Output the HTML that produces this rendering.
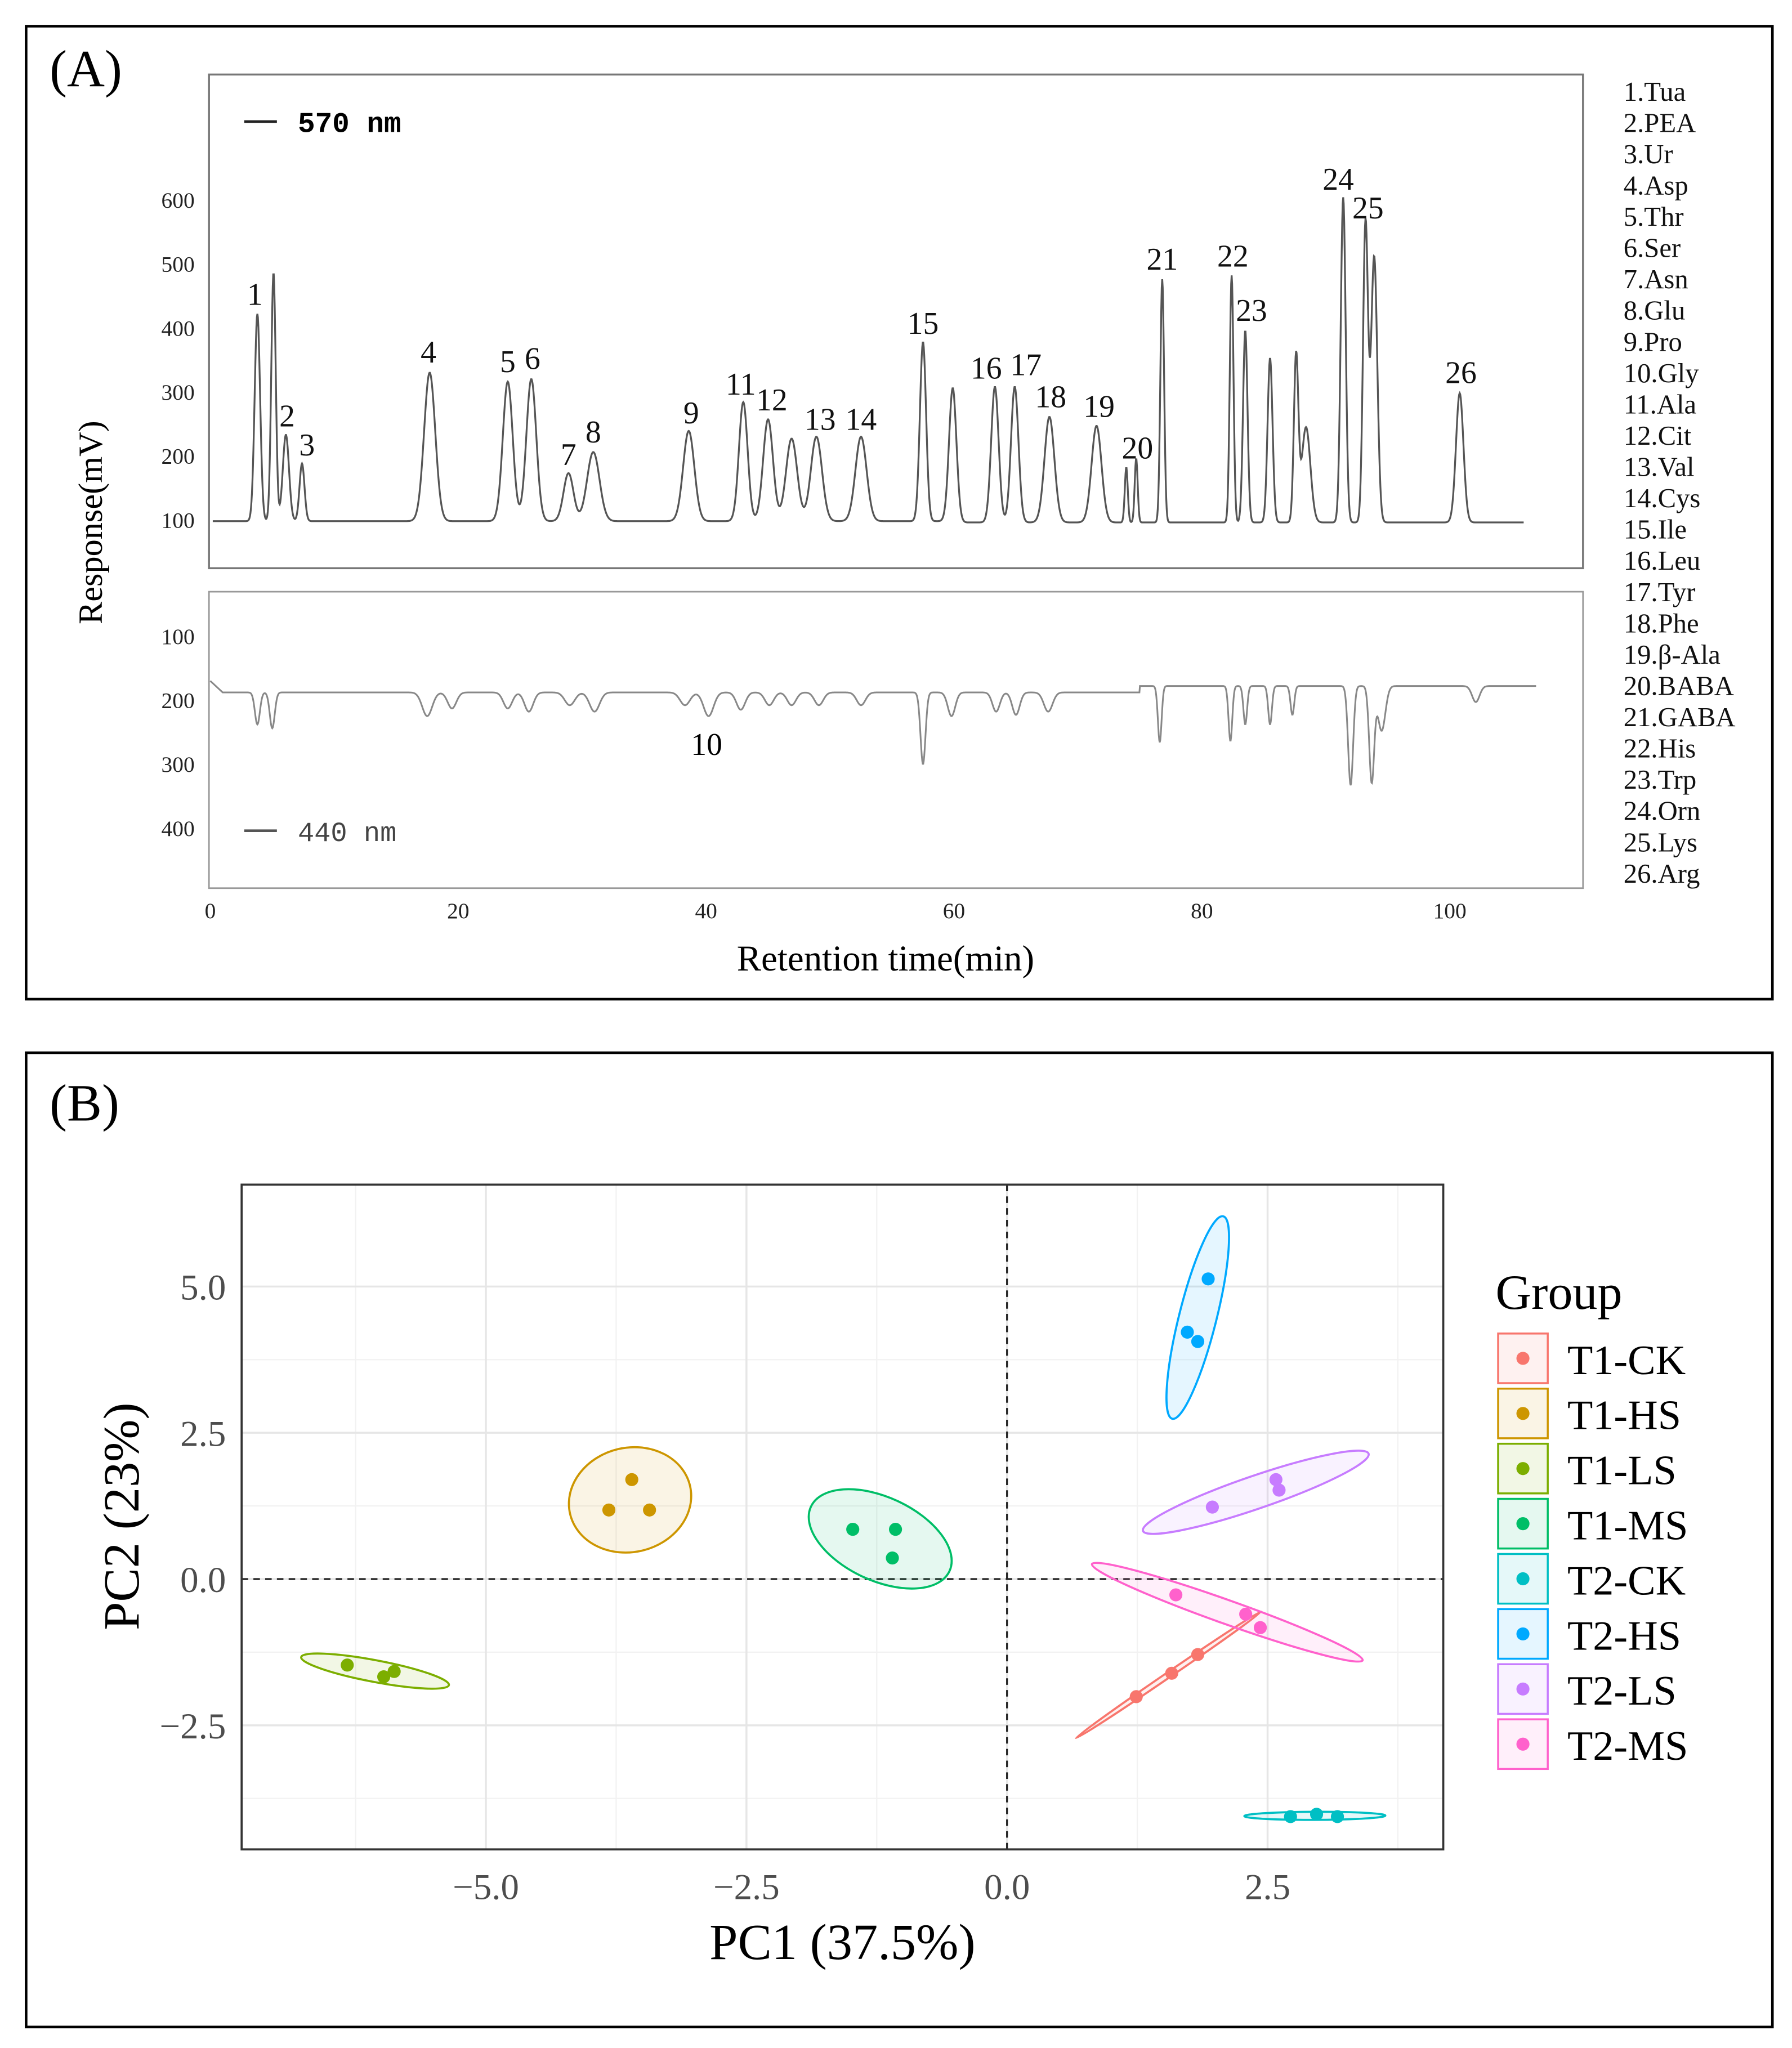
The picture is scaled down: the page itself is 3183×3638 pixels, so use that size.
<!DOCTYPE html>
<html><head><meta charset="utf-8"><style>
html,body{margin:0;padding:0;background:#fff;}
svg{display:block;}
</style></head><body>
<svg id="fig" width="3183" height="3638" viewBox="0 0 1372 1568" xmlns="http://www.w3.org/2000/svg" font-family="'Liberation Serif', serif">
<rect x="0" y="0" width="1372" height="1568" fill="#fff"/>
<g>
<rect x="20" y="20" width="1337" height="745" fill="none" stroke="#000" stroke-width="2"/>
<text x="38" y="66" font-size="40">(A)</text>
<rect x="160" y="57" width="1052" height="378" fill="none" stroke="#777" stroke-width="1.5"/>
<rect x="160" y="453" width="1052" height="227" fill="none" stroke="#999" stroke-width="1.2"/>
<g id="topTicks" font-size="17" text-anchor="end" fill="#222"></g>
<g id="botTicks" font-size="17" text-anchor="end" fill="#222"></g>
<g id="xTicks" font-size="17" text-anchor="middle" fill="#222"></g>
<path id="topTrace" fill="none" stroke="#555" stroke-width="1.4"/>
<path id="botTrace" fill="none" stroke="#888" stroke-width="1.3"/>
<g id="peakLabels" font-size="24" text-anchor="middle" fill="#111"></g>
<text x="541" y="578" font-size="24" text-anchor="middle">10</text>
<line x1="187" y1="93" x2="212" y2="93" stroke="#222" stroke-width="2"/>
<text x="228" y="101" font-size="22" font-weight="bold" font-family="'Liberation Mono', monospace">570 nm</text>
<line x1="187" y1="636" x2="212" y2="636" stroke="#555" stroke-width="2"/>
<text x="228" y="644" font-size="21" fill="#444" font-family="'Liberation Mono', monospace">440 nm</text>
<text transform="translate(78,400) rotate(-90)" font-size="26" text-anchor="middle">Response(mV)</text>
<text x="678" y="743" font-size="28" text-anchor="middle">Retention time(min)</text>
<g id="aaList" font-size="21" fill="#111"></g>
</g>
<g>
<rect x="20" y="806" width="1337" height="746" fill="none" stroke="#000" stroke-width="2"/>
<text x="38" y="858" font-size="40">(B)</text>
<g id="grid"></g>
<g id="pca"></g>
<rect x="185" y="907" width="920" height="509" fill="none" stroke="#333" stroke-width="1.6"/>
<g id="pcaTicks" font-size="28" fill="#4d4d4d"></g>
<text x="645" y="1500" font-size="39" text-anchor="middle">PC1 (37.5%)</text>
<text transform="translate(106,1161) rotate(-90)" font-size="39" text-anchor="middle">PC2 (23%)</text>
<text x="1145" y="1002" font-size="38">Group</text>
<g id="legend"></g>
</g>
</svg>
<script>
// ---------- Chromatogram data ----------
const peakTimes   = [3.8,5.1,6.1,7.4,17.7,24.0,25.9,28.9,30.9,38.6,43.0,45.0,46.9,48.9,52.5,57.5,59.9,63.3,64.9,67.7,71.5,73.9,74.7,76.8,82.4,83.5,85.5,87.6,88.4,91.4,93.2,93.9,100.8];
const peakHeights = [422,486,233,188,330,316,320,173,206,239,284,257,227,230,230,378,306,310,310,263,249,184,198,478,484,398,355,355,247,606,565,514,300];
const peakWidths  = [0.22,0.18,0.25,0.2,0.45,0.4,0.4,0.4,0.5,0.45,0.35,0.4,0.45,0.45,0.45,0.25,0.3,0.3,0.3,0.4,0.4,0.12,0.12,0.15,0.15,0.18,0.2,0.18,0.35,0.2,0.2,0.25,0.3];
const baseTop = 98;
const dipTimes  = [3.8,5.0,17.5,19.5,24.0,25.7,29.0,31.0,38.3,40.2,42.8,45.1,46.9,49.1,52.5,57.5,59.8,63.4,65.0,67.6,76.6,82.3,83.5,85.5,87.3,92.0,93.7,94.5,102.1];
const dipDepths = [50,56,37,25,25,30,20,30,20,37,27,20,20,20,20,112,37,30,35,30,88,86,60,60,45,155,150,70,25];
const dipWidths = [0.2,0.2,0.4,0.35,0.35,0.35,0.4,0.4,0.4,0.4,0.35,0.35,0.35,0.35,0.35,0.2,0.3,0.3,0.3,0.35,0.15,0.15,0.15,0.15,0.15,0.2,0.2,0.3,0.3];
const topTickVals = [100,200,300,400,500,600];
const botTickVals = [100,200,300,400];
const xTickVals = [0,20,40,60,80,100];
const peakLabelText = ["1","2","3","4","5","6","7","8","9","11","12","13","14","15","16","17","18","19","20","21","22","23","24","25","26"];
const peakLabelTimes = [3.6,6.2,7.8,17.6,24.0,26.0,28.9,30.9,38.8,42.8,45.3,49.2,52.5,57.5,62.6,65.8,67.8,71.7,74.8,76.8,82.5,84.0,91.0,93.4,100.9];
const peakLabelVals = [440,250,205,350,335,340,190,225,255,300,275,245,245,395,325,330,280,265,200,495,500,415,620,575,318];
const aaNames = ["1.Tua","2.PEA","3.Ur","4.Asp","5.Thr","6.Ser","7.Asn","8.Glu","9.Pro","10.Gly","11.Ala","12.Cit","13.Val","14.Cys","15.Ile","16.Leu","17.Tyr","18.Phe","19.β-Ala","20.BABA","21.GABA","22.His","23.Trp","24.Orn","25.Lys","26.Arg"];

// ---------- PCA data ----------
const groups = ["T1-CK","T1-HS","T1-LS","T1-MS","T2-CK","T2-HS","T2-LS","T2-MS"];
const colors = ["#F8766D","#CD9600","#7CAE00","#00BE67","#00BFC4","#00A9FF","#C77CFF","#FF61CC"];
const pc1 = [[1.24,1.58,1.83],[-3.82,-3.60,-3.43],[-6.33,-5.98,-5.88],[-1.48,-1.07,-1.10],[2.72,2.97,3.17],[1.93,1.73,1.83],[1.97,2.58,2.61],[1.62,2.29,2.43]];
const pc2 = [[-2.01,-1.61,-1.29],[1.18,1.70,1.18],[-1.47,-1.67,-1.58],[0.85,0.85,0.36],[-4.06,-4.02,-4.06],[5.13,4.22,4.06],[1.23,1.70,1.52],[-0.27,-0.60,-0.83]];
const xTicksB=[-5,-2.5,0,2.5];
const yTicksB=[-2.5,0,2.5,5];
const xMinor=[-6.25,-3.75,-1.25,1.25,3.75];
const yMinor=[-3.75,-1.25,1.25,3.75];

const NS='http://www.w3.org/2000/svg';
const xT = t => 161 + t*9.49;
const yTop = v => 398 - (v-100)*0.49;
const yBot = v => 487 + (v-100)*0.49;
function mk(tag, attrs, parent){const e=document.createElementNS(NS,tag);for(const k in attrs)e.setAttribute(k,attrs[k]);parent.appendChild(e);return e;}

const tt=document.getElementById('topTicks');
topTickVals.forEach(v=>{const e=mk('text',{x:149,y:yTop(v)+6},tt);e.textContent=v;

});
const bt=document.getElementById('botTicks');
botTickVals.forEach(v=>{const e=mk('text',{x:149,y:yBot(v)+6},bt);e.textContent=v;

});
const xt=document.getElementById('xTicks');
xTickVals.forEach(v=>{const e=mk('text',{x:xT(v),y:703},xt);e.textContent=v;

});

let d='';
for(let t=0.2;t<=106;t+=0.04){
  let v=baseTop - (t>60?2:0);
  for(let i=0;i<peakTimes.length;i++){const z=(t-peakTimes[i])/peakWidths[i];v+=(peakHeights[i]-baseTop)*Math.exp(-0.5*z*z);}
  d+=(d?'L':'M')+xT(t).toFixed(2)+' '+yTop(v).toFixed(2);
}
document.getElementById('topTrace').setAttribute('d',d);
d='';
for(let t=0;t<=107;t+=0.04){
  let v = t<75?188:178;
  if(t<1) v=170+18*t;
  for(let i=0;i<dipTimes.length;i++){const z=(t-dipTimes[i])/dipWidths[i];v+=dipDepths[i]*Math.exp(-0.5*z*z);}
  d+=(d?'L':'M')+xT(t).toFixed(2)+' '+yBot(v).toFixed(2);
}
document.getElementById('botTrace').setAttribute('d',d);

const pl=document.getElementById('peakLabels');
peakLabelText.forEach((s,i)=>{const e=mk('text',{x:xT(peakLabelTimes[i]),y:yTop(peakLabelVals[i])+2},pl);e.textContent=s;

});

const al=document.getElementById('aaList');
aaNames.forEach((s,i)=>{const e=mk('text',{x:1243,y:77+i*23.95},al);e.textContent=s;

});

const xP = v => 771 + v*79.8;
const yP = v => 1209 - v*44.8;
const g=document.getElementById('grid');
mk('rect',{x:185,y:907,width:920,height:509,fill:'#fff'},g);
xMinor.forEach(v=>mk('line',{x1:xP(v),x2:xP(v),y1:907,y2:1416,stroke:'#f2f2f2','stroke-width':1},g));
yMinor.forEach(v=>mk('line',{y1:yP(v),y2:yP(v),x1:185,x2:1105,stroke:'#f2f2f2','stroke-width':1},g));
xTicksB.forEach(v=>mk('line',{x1:xP(v),x2:xP(v),y1:907,y2:1416,stroke:'#e6e6e6','stroke-width':1.5},g));
yTicksB.forEach(v=>mk('line',{y1:yP(v),y2:yP(v),x1:185,x2:1105,stroke:'#e6e6e6','stroke-width':1.5},g));
mk('line',{x1:xP(0),x2:xP(0),y1:907,y2:1416,stroke:'#222','stroke-width':1.4,'stroke-dasharray':'5,4'},g);
mk('line',{y1:yP(0),y2:yP(0),x1:185,x2:1105,stroke:'#222','stroke-width':1.4,'stroke-dasharray':'5,4'},g);

const pt=document.getElementById('pcaTicks');
xTicksB.forEach(v=>{const e=mk('text',{x:xP(v),y:1454,'text-anchor':'middle'},pt);e.textContent=(v<0?'\u2212':'')+Math.abs(v).toFixed(1);

});
yTicksB.forEach(v=>{const e=mk('text',{x:173,y:yP(v)+10,'text-anchor':'end'},pt);e.textContent=(v<0?'\u2212':'')+Math.abs(v).toFixed(1);

});

const pg=document.getElementById('pca');
const K=3.0;
groups.forEach((name,gi)=>{
  const xs=pc1[gi].map(xP), ys=pc2[gi].map(yP), n=xs.length;
  const mx=xs.reduce((a,b)=>a+b)/n, my=ys.reduce((a,b)=>a+b)/n;
  let sxx=0,syy=0,sxy=0;
  for(let i=0;i<n;i++){sxx+=(xs[i]-mx)**2;syy+=(ys[i]-my)**2;sxy+=(xs[i]-mx)*(ys[i]-my);}
  sxx/=(n-1);syy/=(n-1);sxy/=(n-1);
  const tr=sxx+syy, det=sxx*syy-sxy*sxy, disc=Math.sqrt(Math.max(tr*tr/4-det,0));
  const l1=tr/2+disc, l2=Math.max(tr/2-disc,0);
  const ang=Math.atan2(l1-sxx,sxy||1e-9)*180/Math.PI;
  const e=mk('ellipse',{cx:mx,cy:my,rx:K*Math.sqrt(l1),ry:Math.max(K*Math.sqrt(l2),2),transform:`rotate(${ang} ${mx} ${my})`,fill:colors[gi],'fill-opacity':0.1,stroke:colors[gi],'stroke-width':1.6},pg);
  
  
  for(let i=0;i<n;i++){
    const c=mk('circle',{cx:xs[i],cy:ys[i],r:5,fill:colors[gi]},pg);
    
    
  }
});

const lg=document.getElementById('legend');
groups.forEach((name,gi)=>{
  const y0=1021+gi*42.2;
  const r=mk('rect',{x:1147,y:y0,width:38,height:38,fill:colors[gi],'fill-opacity':0.1,stroke:colors[gi],'stroke-width':1.5},lg);
  
  
  mk('circle',{cx:1166,cy:y0+19,r:5,fill:colors[gi]},lg);
  const t=mk('text',{x:1200,y:y0+31,'font-size':32},lg);t.textContent=name;
  
  
});
</script>
</body></html>
